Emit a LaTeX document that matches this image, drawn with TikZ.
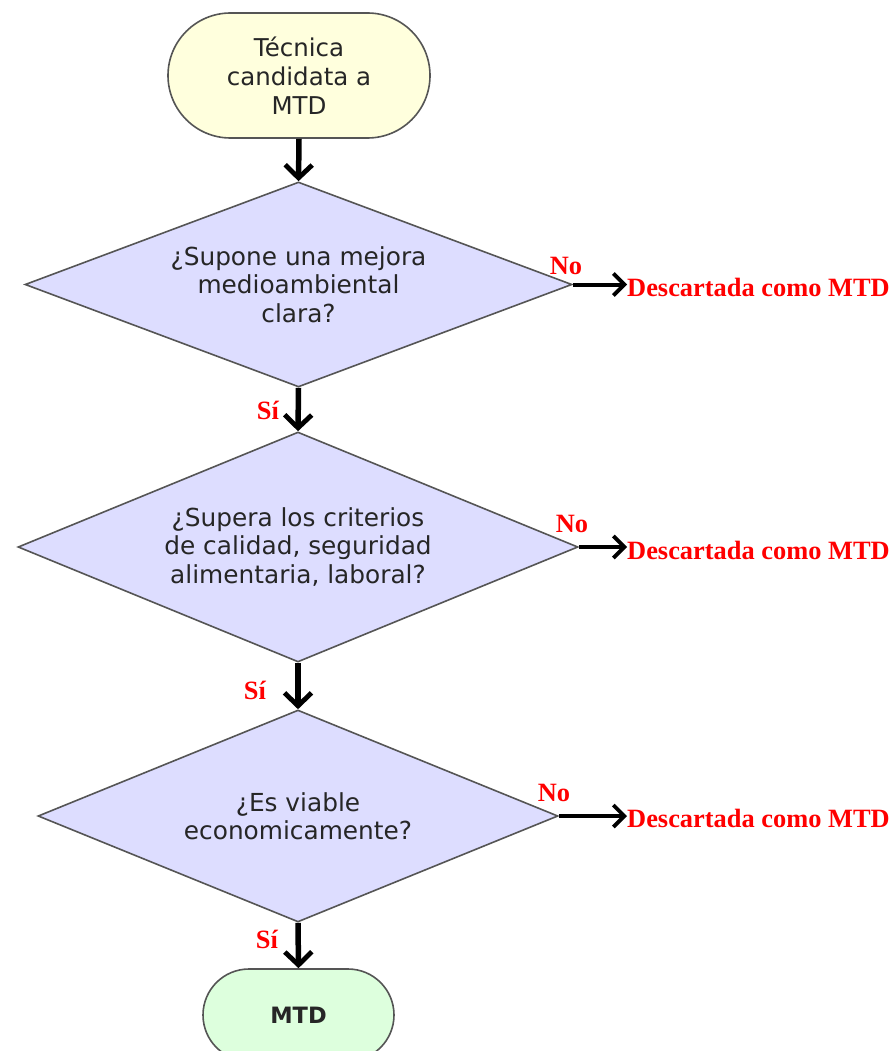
\documentclass[tikz,border=0pt]{standalone}
\usepackage{fontspec}
\setmainfont{DejaVu Sans}
\newfontfamily\lserif{Liberation Serif}
\usetikzlibrary{shapes.geometric,shapes.misc,arrows.meta}
\definecolor{termyellow}{HTML}{FFFFDD}
\definecolor{termgreen}{HTML}{DDFFDD}
\definecolor{decfill}{HTML}{DDDDFF}
\definecolor{edge}{HTML}{555555}
\definecolor{labred}{HTML}{FF0000}
\begin{document}
\begin{tikzpicture}[x=1pt,y=-1pt,
  term/.style={rounded rectangle, draw=edge, line width=1.6pt, inner sep=0pt, align=center,
    font=\fontsize{24.5}{29}\selectfont, text=black!85},
  dec/.style={diamond, draw=edge, line width=1.6pt, fill=decfill, inner sep=0pt, aspect=2.6,
    align=center, font=\fontsize{24.8}{28.5}\selectfont, text=black!85},
  vflow/.style={line width=5.5pt, -{Straight Barb[length=13pt,width=27pt,line width=4.8pt]}},
  hflow/.style={line width=4pt, -{Straight Barb[length=11pt,width=22pt,line width=3.8pt]}},
  lab/.style={text=labred, font=\lserif\bfseries\fontsize{26.4}{28}\selectfont, inner sep=0pt},
  outlab/.style={lab, anchor=west}
]
\clip (0,0) rectangle (892,1051);
\fill[white] (0,0) rectangle (892,1051);

\node[term, fill=termyellow, minimum width=262pt, minimum height=125pt] (start) at (299,75.5)
  {Técnica\\candidata a\\MTD};

\node[dec, minimum width=547pt, minimum height=205pt] (d1) at (298.5,284.5)
  {¿Supone una mejora\\medioambiental\\clara?};
\node[dec, minimum width=560pt, minimum height=230pt] (d2) at (298,547)
  {¿Supera los criterios\\de calidad, seguridad\\alimentaria, laboral?};
\node[dec, minimum width=520pt, minimum height=212pt] (d3) at (298,816)
  {¿Es viable\\economicamente?};

\node[term, fill=termgreen, minimum width=191pt, minimum height=92pt,
  font=\bfseries\fontsize{22.5}{24}\selectfont] (mtd) at (298.5,1015) {MTD};

\node[outlab] (x1) at (627,287) {Descartada como MTD};
\node[outlab] (x2) at (627,550) {Descartada como MTD};
\node[outlab] (x3) at (627,818) {Descartada como MTD};

\draw[vflow] (start.south) -- (d1.north);
\draw[vflow] (d1.south) -- (d2.north);
\draw[vflow] (d2.south) -- (d3.north);
\draw[vflow] (d3.south) -- (mtd.north);

\draw[hflow] (d1.east) -- (d1.east -| x1.west);
\draw[hflow] (d2.east) -- (d2.east -| x2.west);
\draw[hflow] (d3.east) -- (d3.east -| x3.west);

\node[lab] (n1) at (566,266) {No};
\node[lab] (n2) at (572,524) {No};
\node[lab] (n3) at (554,793) {No};
\node[lab] (s1) at (268,410) {Sí};
\node[lab] (s2) at (255,690) {Sí};
\node[lab] (s3) at (267,939) {Sí};
\end{tikzpicture}
\end{document}
